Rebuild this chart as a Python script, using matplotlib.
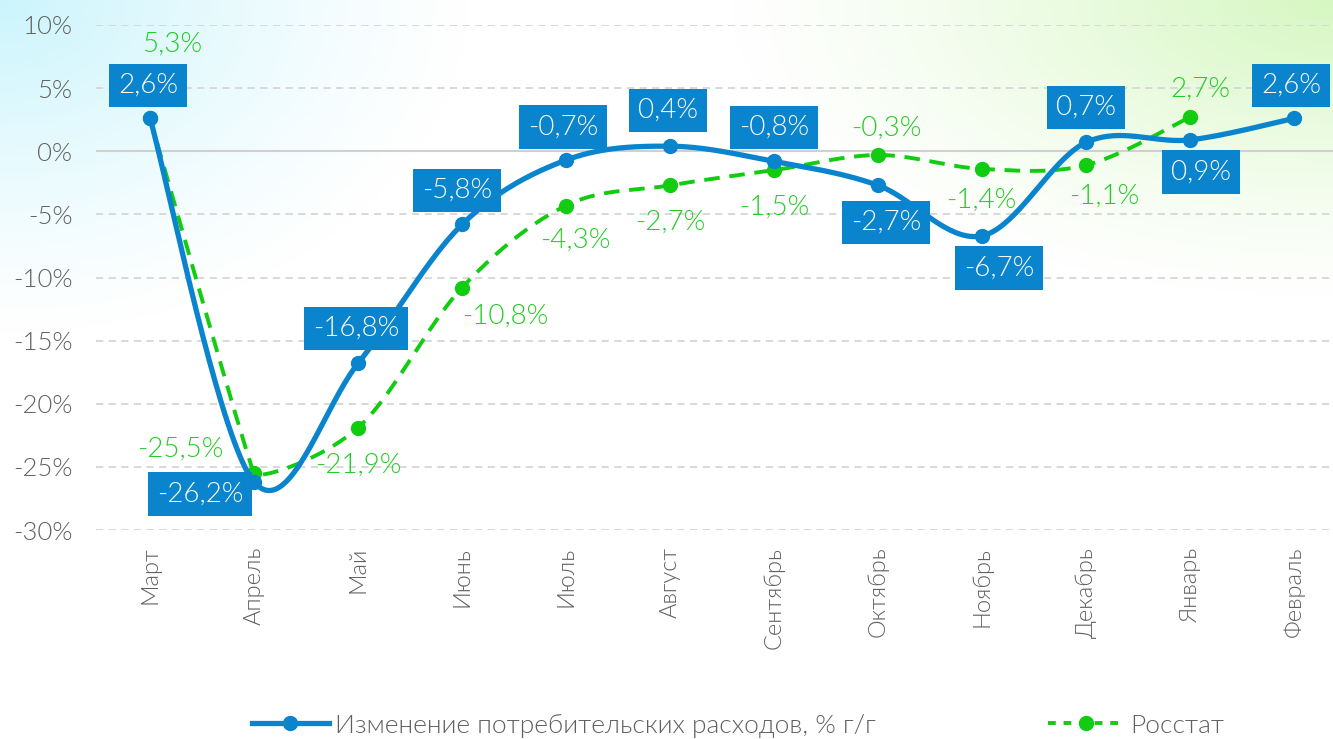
import numpy as np
import matplotlib
matplotlib.use("Agg")
import matplotlib.pyplot as plt

plt.rcParams['font.family'] = ['Lato', 'DejaVu Sans']
plt.rcParams['font.weight'] = 300

months = ["Март", "Апрель", "Май", "Июнь", "Июль", "Август", "Сентябрь",
          "Октябрь", "Ноябрь", "Декабрь", "Январь", "Февраль"]
spend = [2.6, -26.2, -16.8, -5.8, -0.7, 0.4, -0.8, -2.7, -6.7, 0.7, 0.9, 2.6]
spend_labels = ["2,6%", "-26,2%", "-16,8%", "-5,8%", "-0,7%", "0,4%", "-0,8%",
                "-2,7%", "-6,7%", "0,7%", "0,9%", "2,6%"]
rosstat = [2.6, -25.5, -21.9, -10.8, -4.3, -2.7, -1.5, -0.3, -1.4, -1.1, 2.7]
rosstat_labels = ["5,3%", "-25,5%", "-21,9%", "-10,8%", "-4,3%", "-2,7%", "-1,5%",
                  "-0,3%", "-1,4%", "-1,1%", "2,7%"]

BLUE = "#0A84CC"
GREEN = "#11CC11"
GREEN_TXT = "#22CC22"
GRAY = "#606060"

# label offsets in pixels (dx, dy)
spend_off = [(-2, 33), (-54, -12), (-2, 35), (-5, 34), (-3, 33), (-2, 36), (0, 34),
             (8, -37), (17, -32), (0, 35), (11, -32), (-3, 33)]
rosstat_off = [(22, 74), (-74, 24), (0, -37), (43, -28), (9, -35), (0, -37), (0, -37),
               (8, 27), (-1, -31), (18, -31), (10, 28)]


def smooth(xs, ys, tens=None, n=40):
    # cubic bezier through the points (Catmull-Rom, like Excel's smoothed line)
    # tens: per-point handle scale, 1 = normal
    xs = np.asarray(xs, float)
    ys = np.asarray(ys, float)
    if tens is None:
        tens = np.ones(len(xs))
    px = np.concatenate([[xs[0]], xs, [xs[-1]]])
    py = np.concatenate([[ys[0]], ys, [ys[-1]]])
    P = np.column_stack([px, py])
    ox, oy = [], []
    t = np.linspace(0, 1, n)[:, None]
    for i in range(1, len(P) - 2):
        p0, p1, p2, p3 = P[i - 1], P[i], P[i + 1], P[i + 2]
        c1 = p1 + (p2 - p0) / 6 * tens[i - 1]
        c2 = p2 - (p3 - p1) / 6 * tens[i]
        b = (1 - t) ** 3 * p1 + 3 * (1 - t) ** 2 * t * c1 + 3 * (1 - t) * t ** 2 * c2 + t ** 3 * p2
        ox.extend(b[:, 0]); oy.extend(b[:, 1])
    return np.array(ox), np.array(oy)


fig = plt.figure(figsize=(13.33, 7.39), dpi=100)

# background gradient
bg = fig.add_axes([0, 0, 1, 1], zorder=-10)
gy, gx = np.mgrid[0:1:200j, 0:1:360j]
cyan = np.clip(1 - np.hypot(gx / 0.35, gy / 0.45), 0, 1) ** 1.2
green = np.clip(1 - np.hypot((1 - gx) / 0.45, gy / 0.4), 0, 1) ** 1.2
img = np.ones((200, 360, 3))
img = img * (1 - cyan[..., None]) + np.array([0.80, 0.96, 0.99]) * cyan[..., None]
img = img * (1 - green[..., None]) + np.array([0.84, 0.97, 0.76]) * green[..., None]
bg.imshow(img, aspect='auto', extent=[0, 1, 1, 0])
bg.axis('off')

ax = fig.add_axes([96 / 1333, 1 - 530 / 739, 1 - 96 / 1333, (530 - 25) / 739])
ax.patch.set_alpha(0)
x = np.arange(len(months))

for yv in range(-30, 11, 5):
    if yv == 0:
        ax.axhline(0, color="#d0d0d0", lw=1.5, zorder=1)
    else:
        ax.axhline(yv, color="#d6d6d6", lw=1.3, ls=(0, (4, 3)), zorder=1)

sx, sy = smooth(x, spend)
ax.plot(sx, sy, color=BLUE, lw=3.8, zorder=3, solid_capstyle='round')
ax.plot(x, spend, 'o', color=BLUE, ms=10, zorder=4)

g_tens = np.ones(len(rosstat))
g_tens[0] = 0.3
g_tens[1] = 0.15
gx2, gy2 = smooth(x[:len(rosstat)], rosstat, tens=g_tens)
ax.plot(gx2, gy2, color=GREEN, lw=2.8, ls=(0, (4, 2.5)), zorder=2)
ax.plot(x[:len(rosstat)], rosstat, 'o', color=GREEN, ms=10, zorder=2)

for i, (v, lab) in enumerate(zip(spend, spend_labels)):
    ax.annotate(lab, (i, v), xytext=spend_off[i], textcoords='offset pixels',
                ha='center', va='center', color='white', fontsize=20, zorder=6,
                bbox=dict(boxstyle='square,pad=0.33', fc=BLUE, ec='none'))
for i, (v, lab) in enumerate(zip(rosstat, rosstat_labels)):
    ax.annotate(lab, (i, v), xytext=rosstat_off[i], textcoords='offset pixels',
                ha='center', va='center', color=GREEN_TXT, fontsize=20, zorder=5)

ax.set_xlim(-0.52, 11.375)
ax.set_ylim(-30, 10)
ax.set_yticks(range(-30, 11, 5))
ax.set_yticklabels([f"{v}%" for v in range(-30, 11, 5)], color=GRAY, fontsize=18.5)
ax.set_xticks(x)
ax.set_xticklabels(months, rotation=90, color=GRAY, fontsize=17)
ax.tick_params(length=0)
ax.tick_params(axis='y', pad=17)
ax.tick_params(axis='x', pad=12)
for s in ax.spines.values():
    s.set_visible(False)

h1, = ax.plot([], [], color=BLUE, lw=3.8, marker='o', ms=10)
h2, = ax.plot([], [], color=GREEN, lw=2.8, ls=(0, (2, 2)), marker='o', ms=10)
leg = fig.legend([h1, h2], ["Изменение потребительских расходов, % г/г", "Росстат"],
                 loc='center', bbox_to_anchor=(0.554, 0.018), ncol=2, frameon=False,
                 fontsize=19, columnspacing=6.5, handlelength=2.9, handletextpad=0.25)
for t in leg.get_texts():
    t.set_color(GRAY)

fig.savefig("out.png", dpi=100)
